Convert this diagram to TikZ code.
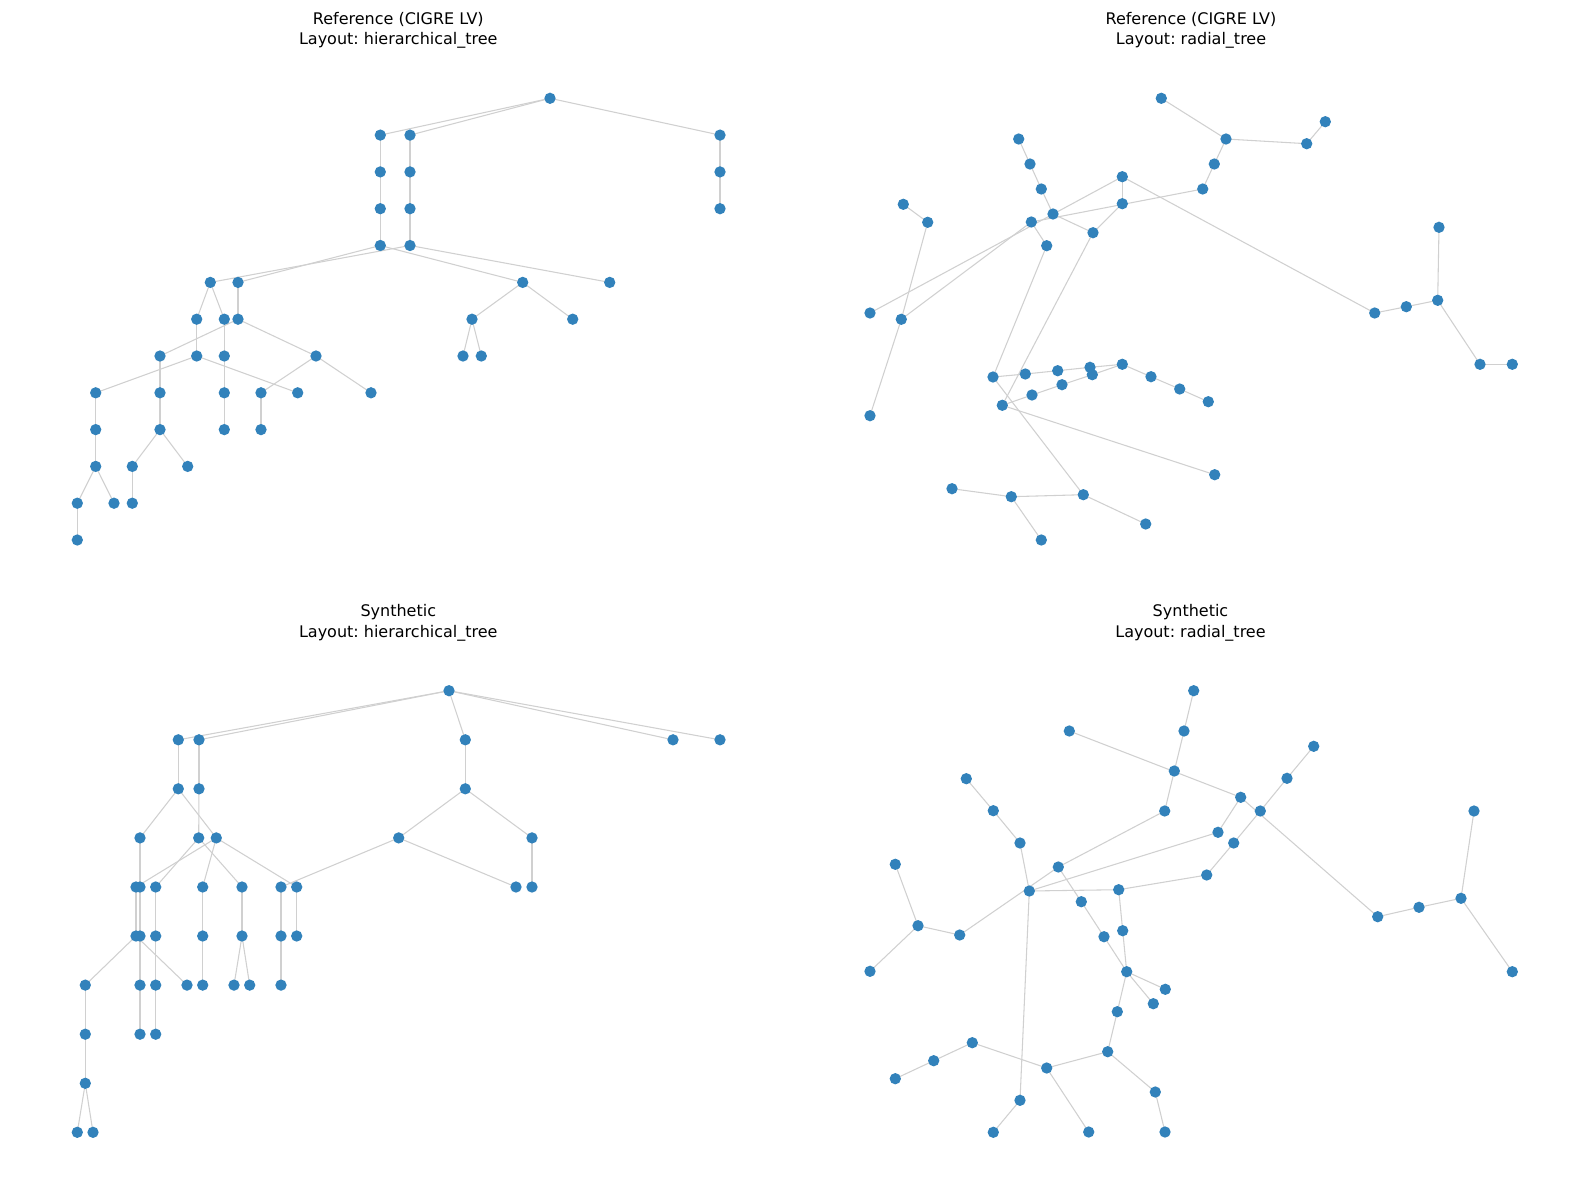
\documentclass[tikz,border=0pt]{standalone}
\usepackage{fontspec}
\setmainfont{DejaVu Sans}
\frenchspacing
\pgfdeclarelayer{background}
\pgfsetlayers{background,main}
\definecolor{nodeblue}{RGB}{50,130,187}
\definecolor{edgegray}{RGB}{208,208,208}
\tikzset{
  dot/.style={circle,fill=nodeblue,draw=none,inner sep=0pt,minimum size=8.5pt},
  edge/.style={draw=edgegray,line width=0.8pt},
  ttl/.style={anchor=base,font=\fontsize{12pt}{14pt}\selectfont,inner sep=0pt}
}
\begin{document}
\begin{tikzpicture}[x=0.75pt,y=-0.75pt]
\useasboundingbox (0,0) rectangle (1589,1189);
% titles
\node[ttl] (t1a) at (398.3,24) {Reference (CIGRE LV)};
\node[ttl] (t1b) at (398.3,44.5) {Layout: hierarchical\_tree};
\node[ttl] (t2a) at (1191,24) {Reference (CIGRE LV)};
\node[ttl] (t2b) at (1191,44.5) {Layout: radial\_tree};
\node[ttl] (t3a) at (398.3,616.5) {Synthetic};
\node[ttl] (t3b) at (398.3,637) {Layout: hierarchical\_tree};
\node[ttl] (t4a) at (1190.5,616.5) {Synthetic};
\node[ttl] (t4b) at (1190.5,637) {Layout: radial\_tree};
% ---------- panel 1 ----------
\foreach \n/\x/\y in {
 aR/550/98.3,
 aA1/380.3/135.1, aB1/410/135.1, aC1/720/135.1,
 aA2/380.3/171.9, aB2/410/171.9, aC2/720/171.9,
 aA3/380.3/208.7, aB3/410/208.7, aC3/720/208.7,
 aA4/380.3/245.5, aB4/410/245.5,
 aP/210.3/282.4, aQ/238/282.4, aX/522.7/282.4, aY/609.7/282.4,
 aP1/196.7/319.2, aP2/224.3/319.2, aQ1/238/319.2, aX1/472/319.2, aX2/572.7/319.2,
 a7a/160/356, a7b/196.7/356, a7c/224.3/356, a7d/316/356, a7e/463/356, a7f/481.3/356,
 a8a/95.7/392.8, a8b/160/392.8, a8c/224.3/392.8, a8d/261/392.8, a8e/297.7/392.8, a8f/371/392.8,
 a9a/95.7/429.6, a9b/160/429.6, a9c/224.3/429.6, a9d/261/429.6,
 a10a/95.7/466.4, a10b/132.3/466.4, a10c/187.7/466.4,
 a11a/77.3/503.2, a11b/114/503.2, a11c/132.3/503.2,
 a12a/77.3/540}
 \node[dot] (\n) at (\x,\y) {};
% ---------- panel 2 ----------
\foreach \n/\x/\y in {
 bu/1122.3/364.3, bs/1090/367.3, bt/1092.3/374.7, bv/1151/376.7, bw/1179.7/389, bx/1208.3/401.7,
 br/1057.7/370.7, bq/1025.3/374, bp/993/377,
 by/1062/384.7, bz/1032/395, baa/1002.3/405.3,
 bee/1083.3/494.7, bm/1046.7/245.7, bss/1214.7/474.7, bl/1093/232.7,
 bff/1145.7/524, bdd/1011.3/496.7, bcc/952/488.7, bgg/1041.3/540,
 bi/1053/214, bj/1122.3/203.7, bd/1041.3/189, bc/1030/164, bb/1018.7/139,
 be/1122.3/176.7, bn/870/313, bnn/1374.7/313, boo/1406.3/306.7, bpp/1437.7/300.3,
 bmm/1439/227.3, bqq/1480/364.3, brr/1512.3/364.3,
 bk/1031.3/222, bo/901.3/319.3, bf/1202.7/189,
 bh/927.7/222.3, bg/903.3/204.3, bbb/870/415.7,
 bkk/1214.3/164, bhh/1226/139, ba/1161.3/98.3, bii/1306.7/143.7, bjj/1325.3/121.7}
 \node[dot] (\n) at (\x,\y) {};
% ---------- panel 3 ----------
\foreach \n/\x/\y in {
 cR/449/690.7,
 cA1/178.3/739.8, cB1/199/739.8, cC1/465.3/739.8, cD1/673/739.8, cE1/720/739.8,
 cA2/178.3/788.8, cB2/199/788.8, cC2/465.3/788.8,
 cM/140/837.9, cJ/198.7/837.9, cK/216.3/837.9, cAA/398.7/837.9, cAD/532/837.9,
 cBF/136/887, cBG/140/887, cG/155.7/887, cH/202.7/887, cP/242/887, cX/281/887, cAC/296.7/887, cAF/516/887, cAG/532/887,
 cBD/136/936, cBE/140/936, cE/155.7/936, cF/202.7/936, cO/242/936, cZ/281/936, cAE/296.7/936,
 cBJ/85.3/985.1, cBC/140/985.1, cC/155.7/985.1, cB/187/985.1, cD/202.7/985.1, cI/234/985.1, cS/249.7/985.1, cAB/281/985.1,
 cBK/85.3/1034.2, cBB/140/1034.2, cA/155.7/1034.2,
 cBL/85.3/1083.3,
 cBI/77.3/1132.3, cBM/93/1132.3}
 \node[dot] (\n) at (\x,\y) {};
% ---------- panel 4 ----------
\foreach \n/\x/\y in {
 dA/1193.7/690.7, dB/1069.3/731, dC/1184/731, dD/966.3/778.7, dE/1174.3/771, dF/993.3/810.7,
 dG/1164.7/811, dH/1020/843, dI/895.3/864.3, dJ/1058.3/867, dK/1029.3/891, dL/1118.7/889.7,
 dM/1206.7/875, dN/1081.3/901.7, dO/918/925.7, dP/959.7/935, dQ/1122.7/930.7, dR/1104/936.7,
 dS/870/971.3, dT/1126.7/971.7, dU/1165.3/989.3, dV/1153.3/1003.7, dW/1117.3/1011.7,
 dX/972.3/1042.7, dY/1107.7/1051.7, dZ/933.7/1060.7, dAA/1046.7/1068, dAB/895.3/1078.7,
 dAC/1020/1100.3, dAD/1155.3/1092, dAE/993.3/1132.3, dAF/1088.7/1132, dAG/1165/1132,
 dBB/1313.7/746.3, dBC/1287/778.3, dBD/1240.7/797.3, dBE/1260.3/811, dBF/1218/832.3,
 dBG/1233.7/843, dBI/1474/811, dBJ/1377.7/916.7, dBK/1419/907.3, dBL/1461/898.3, dBM/1512.3/971.7}
 \node[dot] (\n) at (\x,\y) {};
% ---------- edges ----------
\begin{pgfonlayer}{background}
\foreach \a/\b in {
 aR/aA1, aR/aB1, aR/aC1, aA1/aA2, aA2/aA3, aA3/aA4, aB1/aB2, aB2/aB3, aB3/aB4, aC1/aC2, aC2/aC3,
 aA4/aQ, aA4/aX, aB4/aP, aB4/aY,
 aX/aX1, aX/aX2, aX1/a7e, aX1/a7f,
 aP/aP1, aP/aP2, aP1/a7b, aP2/a7c, a7c/a8c, a8c/a9c,
 a7b/a8a, a7b/a8e, a8a/a9a, a9a/a10a, a10a/a11a, a10a/a11b, a11a/a12a,
 aQ/aQ1, aQ1/a7d, aQ1/a7a, a7d/a8d, a7d/a8f, a8d/a9d,
 a7a/a8b, a8b/a9b, a9b/a10b, a9b/a10c, a10b/a11c}
 \draw[edge] (\a.center) -- (\b.center);
\foreach \a/\b in {
 bu/bs, bu/bt, bu/bv, bv/bw, bw/bx, bs/br, br/bq, bq/bp, bt/by, by/bz, bz/baa,
 bp/bee, bp/bm, baa/bss, baa/bl, bee/bff, bee/bdd, bdd/bcc, bdd/bgg,
 bl/bi, bl/bj, bi/bd, bd/bc, bc/bb, bj/be, be/bn, be/bnn, bnn/boo, boo/bpp,
 bpp/bmm, bpp/bqq, bqq/brr, bm/bk, bk/bo, bk/bf, bo/bh, bh/bg, bo/bbb,
 bf/bkk, bkk/bhh, bhh/ba, bhh/bii, bii/bjj}
 \draw[edge] (\a.center) -- (\b.center);
\foreach \a/\b in {
 cR/cA1, cR/cB1, cR/cC1, cR/cD1, cR/cE1,
 cA1/cA2, cB1/cB2, cC1/cC2,
 cA2/cM, cA2/cK, cB2/cJ, cC2/cAA, cC2/cAD,
 cM/cBG, cK/cBF, cK/cH, cK/cAC, cJ/cG, cJ/cP, cAA/cX, cAA/cAF, cAD/cAG,
 cBG/cBE, cBF/cBD, cG/cE, cH/cF, cP/cO, cX/cZ, cAC/cAE,
 cBE/cBC, cBD/cBJ, cBD/cB, cE/cC, cF/cD, cO/cI, cO/cS, cZ/cAB,
 cBC/cBB, cBJ/cBK, cC/cA,
 cBK/cBL, cBL/cBI, cBL/cBM}
 \draw[edge] (\a.center) -- (\b.center);
\foreach \a/\b in {
 dT/dR, dT/dQ, dT/dW, dT/dU, dT/dV,
 dR/dN, dN/dJ, dJ/dG, dJ/dP,
 dG/dE, dE/dC, dC/dA,
 dP/dO, dO/dI, dO/dS,
 dQ/dL, dL/dM, dL/dK,
 dM/dBG, dBG/dBE, dBE/dBC, dBC/dBB,
 dK/dBF, dK/dH, dK/dAC, dH/dF, dF/dD, dAC/dAE,
 dBF/dBD, dBD/dB, dBD/dBJ, dBJ/dBK, dBK/dBL, dBL/dBI, dBL/dBM,
 dW/dY, dY/dAD, dAD/dAG, dY/dAA, dAA/dAF, dAA/dX, dX/dZ, dZ/dAB}
 \draw[edge] (\a.center) -- (\b.center);
\end{pgfonlayer}
\end{tikzpicture}
\end{document}
